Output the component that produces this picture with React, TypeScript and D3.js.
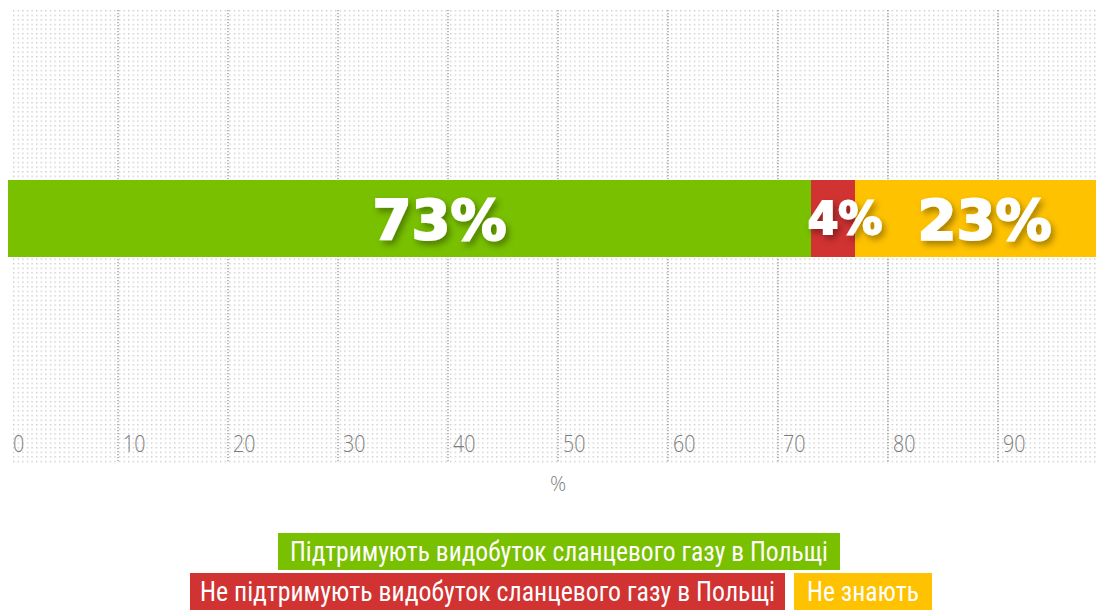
import React from "react";
import * as d3 from "d3";

const categories = ["Підтримують видобуток сланцевого газу в Польщі", "Не підтримують видобуток сланцевого газу в Польщі", "Не знають"];
const values = [73, 4, 23];
const colors = ["#78c000", "#d13232", "#ffc200"];
const ticks = [0, 10, 20, 30, 40, 50, 60, 70, 80, 90];
const labelSizes = [56, 44, 56];

export default function App() {
  const W = 1096;
  const H = 602;
  const x = d3.scaleLinear().domain([0, 100]).range([0, 1100]);
  const stack = values.reduce((acc: number[], v, i) => { acc.push((i ? acc[i - 1] : 0) + v); return acc; }, []);
  const barTop = 172;
  const barH = 77;
  const gridTop = 2;
  const gridBottom = 455;

  const legendFont = "'Liberation Sans Narrow', 'Roboto Condensed', Roboto, sans-serif";
  const textLens = [538, 575, 112];
  const padX = [12, 10, 13];
  const boxW = textLens.map((t, i) => t + padX[i] * 2);
  const row1X = (W + 8) / 2 - 8 - boxW[0] / 2 + 7;
  const gap = 9;
  const row2W = boxW[1] + gap + boxW[2];
  const row2X = (W + 8) / 2 - 8 - row2W / 2 + 9;
  const legendItems = [
    { x: row1X, y: 525 },
    { x: row2X, y: 565 },
    { x: row2X + boxW[1] + gap, y: 565 },
  ];
  const labelShift = [30, 12, 3];

  return (
    <svg width={W} height={H} style={{ display: "block" }}>
      <defs>
        <pattern id="dots" width={4.6} height={4.6} patternUnits="userSpaceOnUse" x={5} y={2}>
          <rect x={0} y={0} width={1.4} height={1.4} fill="#cbcbcb" />
        </pattern>
        <filter id="shadow" x="-20%" y="-20%" width="140%" height="160%">
          <feDropShadow dx={3} dy={4} stdDeviation={3} floodColor="#000" floodOpacity={0.35} />
        </filter>
      </defs>
      <rect x={4} y={gridTop} width={W} height={gridBottom - gridTop} fill="url(#dots)" />
      {ticks.map((t) => (
        <g key={t}>
          {t > 0 && (
            <line x1={x(t)} x2={x(t)} y1={gridTop} y2={gridBottom} stroke="#8c8c8c" strokeWidth={1.2} strokeDasharray="1.2,1.8" />
          )}
          <text x={x(t) + 5} y={444} fontFamily="'Open Sans', sans-serif" fontWeight={300} fontSize={24} fill="#7d7d7d" transform={`translate(${x(t) + 5},0) scale(0.82,1) translate(${-(x(t) + 5)},0)`}>
            {t}
          </text>
        </g>
      ))}
      <text x={x(50)} y={483} textAnchor="middle" fontFamily="'Open Sans', sans-serif" fontWeight={300} fontSize={20} fill="#7d7d7d">%</text>
      {values.map((v, i) => {
        const x0 = x(i ? stack[i - 1] : 0);
        const x1 = x(stack[i]);
        return (
          <rect key={i} x={x0} y={barTop} width={x1 - x0} height={barH} fill={colors[i]} />
        );
      })}
      {values.map((v, i) => {
        const x0 = x(i ? stack[i - 1] : 0);
        const x1 = x(stack[i]);
        const cx = (x0 + x1) / 2 + labelShift[i];
        return (
          <text key={i} x={cx} y={barTop + barH / 2} dy="0.36em" textAnchor="middle" fontFamily="'DejaVu Sans', sans-serif" fontWeight="bold" fontSize={labelSizes[i]} fill="#fff" stroke="#fff" strokeWidth={2} filter="url(#shadow)">
            {v}%
          </text>
        );
      })}
      {categories.map((c, i) => (
        <g key={c} transform={`translate(${legendItems[i].x},${legendItems[i].y})`}>
          <rect width={boxW[i]} height={37} fill={colors[i]} />
          <text x={padX[i]} y={28} fontFamily={legendFont} fontSize={27} fill="#fff" textLength={textLens[i]} lengthAdjust="spacingAndGlyphs">
            {c}
          </text>
        </g>
      ))}
    </svg>
  );
}
